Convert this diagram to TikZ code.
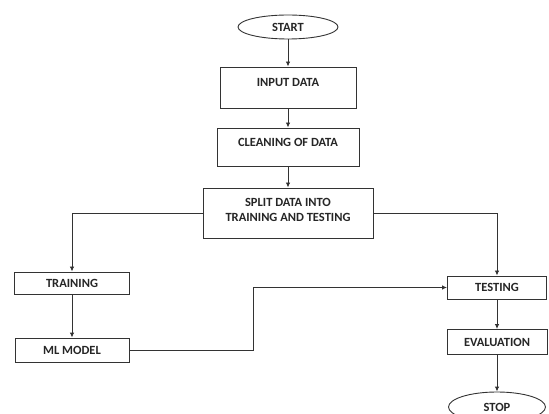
\documentclass[tikz,border=0pt]{standalone}
\usepackage{fontspec}
\setmainfont{Carlito}
\usetikzlibrary{arrows.meta,shapes.geometric}
\tikzset{
  box/.style={draw=black!80, line width=0.9pt, rectangle, inner sep=0pt, font=\bfseries\fontsize{12.5}{15}\selectfont, align=center, text=black!85},
  term/.style={draw=black!80, line width=0.9pt, ellipse, inner sep=0pt, font=\bfseries\fontsize{12.5}{15}\selectfont, text=black!85},
  arr/.style={draw=black!80, line width=0.9pt, -{Latex[length=5pt,width=4.5pt]}},
  raised/.style={text depth=#1}
}
\begin{document}
\begin{tikzpicture}[x=1pt,y=-1pt]
\useasboundingbox[fill=white] (0,0) rectangle (549,414);
\clip (0,0) rectangle (549,414);
\node[term, minimum width=100pt, minimum height=24pt] (start) at (288,27) {START};
\node[box, raised=10pt, minimum width=136pt, minimum height=41pt] (input) at (288,87.5) {INPUT DATA};
\node[box, raised=10pt, minimum width=142pt, minimum height=38pt] (clean) at (288,147) {CLEANING OF DATA};
\node[box, raised=7pt, minimum width=170pt, minimum height=50pt] (split) at (288,213) {SPLIT DATA INTO\\TRAINING AND TESTING};
\node[box, minimum width=115pt, minimum height=22pt] (train) at (72,283) {TRAINING};
\node[box, minimum width=114pt, minimum height=24pt] (ml) at (72,350) {ML MODEL};
\node[box, minimum width=99pt, minimum height=23pt] (test) at (497,287.5) {TESTING};
\node[box, minimum width=100pt, minimum height=25pt] (eval) at (497,342) {EVALUATION};
\node[term, minimum width=97pt, minimum height=30pt] (stop) at (497,407) {STOP};
\coordinate (bend) at (253,350);
\draw[arr] (start) -- (input);
\draw[arr] (input) -- (clean);
\draw[arr] (clean) -- (split);
\draw[arr] (split.west) -| (train.north);
\draw[arr] (split.east) -| (test.north);
\draw[arr] (train) -- (ml);
\draw[arr] (ml.east) -- (bend) |- (test.west);
\draw[arr] (test) -- (eval);
\draw[arr] (eval) -- (stop);
\end{tikzpicture}
\end{document}
